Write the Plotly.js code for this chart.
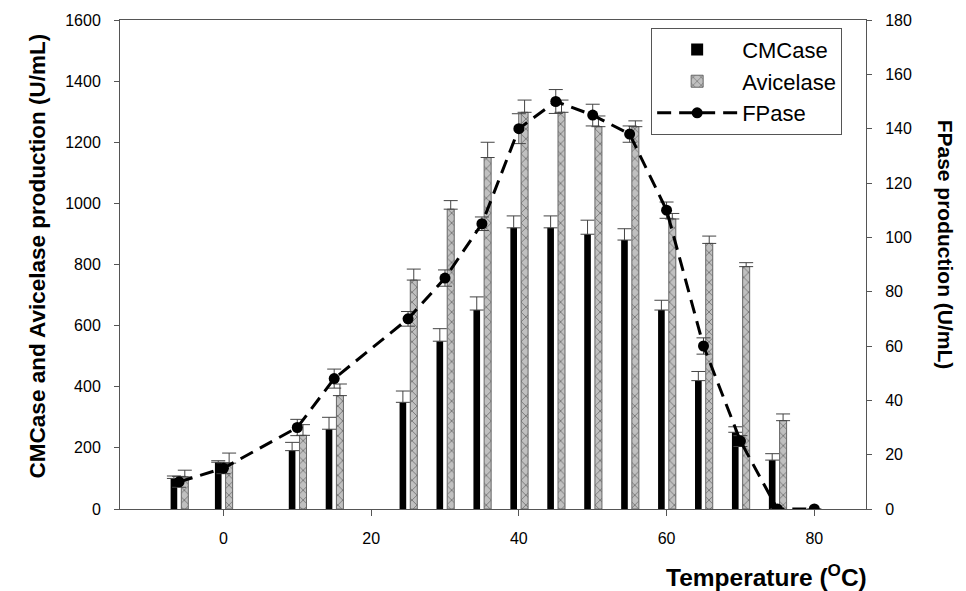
<!DOCTYPE html>
<html>
<head>
<meta charset="utf-8">
<script src="https://cdn.plot.ly/plotly-3.0.1.min.js"></script>
<style>
  html, body { margin: 0; padding: 0; background: #fff; }
  #chart { width: 966px; height: 591px; }
</style>
</head>
<body>
<div id="chart"></div>
<script>
// ---- data ----
const temperature = [-6, 0, 10, 15, 25, 30, 35, 40, 45, 50, 55, 60, 65, 70, 75];
const cmcase      = [100, 153, 191, 261, 349, 549, 651, 920, 920, 899, 880, 651, 420, 251, 160];
const cmcaseErr   = [8, 5, 27, 39, 37, 41, 43, 39, 39, 46, 37, 32, 30, 18, 21];
const avicelase   = [105, 150, 241, 371, 749, 981, 1150, 1298, 1298, 1251, 1251, 949, 869, 793, 289];
const avicelaseErr= [22, 33, 35, 38, 36, 28, 50, 40, 40, 35, 19, 18, 24, 13, 22];
const fpaseTemp   = [-6, 0, 10, 15, 25, 30, 35, 40, 45, 50, 55, 60, 65, 70, 75, 80];
const fpase       = [10, 15, 30, 48, 70, 85, 105, 140, 150, 145, 138, 110, 60, 25, 0, 0];
const fpaseErr    = [2, 2, 3, 3.5, 2.7, 3, 2.5, 5.5, 4.4, 4, 3, 3, 3, 2, 0, 0];
const xTicks      = [0, 20, 40, 60, 80];

const FONT = "Arial, 'Liberation Sans', sans-serif";

const traces = [
  {
    type: 'bar', name: 'CMCase',
    x: temperature, y: cmcase,
    offset: -1.15, width: 0.9,
    marker: { color: '#000000', line: { color: '#000000', width: 0 } },
    error_y: { type: 'data', symmetric: false, array: cmcaseErr,
               arrayminus: cmcase.map(() => 0), color: '#444', thickness: 1, width: 7 },
    yaxis: 'y'
  },
  {
    type: 'bar', name: 'Avicelase',
    x: temperature, y: avicelase,
    offset: 0.3, width: 0.95,
    marker: { color: '#c0c0c0', line: { color: '#666', width: 1 },
              pattern: { shape: 'x', bgcolor: '#c0c0c0', fgcolor: '#444', size: 7, solidity: 0.15 } },
    error_y: { type: 'data', symmetric: false, array: avicelaseErr,
               arrayminus: avicelase.map(() => 0), color: '#444', thickness: 1, width: 7 },
    yaxis: 'y'
  },
  {
    type: 'scatter', mode: 'lines+markers', name: 'FPase',
    x: fpaseTemp, y: fpase,
    line: { color: '#000', width: 3, dash: '14px,8px' },
    marker: { color: '#000', size: 11, symbol: 'circle' },
    error_y: { type: 'data', array: fpaseErr, color: '#444', thickness: 1, width: 7 },
    yaxis: 'y2'
  }
];

const axisLine = '#555';
const tickFont = { size: 16, family: FONT, color: '#000' };
const layout = {
  width: 966, height: 591,
  margin: { l: 120, r: 100, t: 20, b: 82 },
  paper_bgcolor: '#fff', plot_bgcolor: '#fff',
  font: { family: FONT, color: '#000', size: 16 },
  showlegend: true,
  barmode: 'overlay',
  xaxis: {
    range: [-14, 87], tickvals: xTicks, ticktext: xTicks.map(String),
    showgrid: false, zeroline: false,
    showline: true, linecolor: axisLine, linewidth: 1, mirror: true,
    ticks: 'outside', ticklen: 6, tickcolor: axisLine, ticklabelstandoff: 9,
    tickfont: tickFont
  },
  yaxis: {
    range: [0, 1600], dtick: 200,
    showgrid: false, zeroline: false,
    showline: true, linecolor: axisLine, linewidth: 1,
    ticks: 'outside', ticklen: 5, tickcolor: axisLine, ticklabelstandoff: 10,
    tickfont: tickFont
  },
  yaxis2: {
    range: [0, 180], dtick: 20, overlaying: 'y', side: 'right',
    showgrid: false, zeroline: false,
    showline: true, linecolor: axisLine, linewidth: 1,
    ticks: 'outside', ticklen: 5, tickcolor: axisLine, ticklabelstandoff: 10,
    tickfont: tickFont
  },
  legend: {
    x: 0.712, y: 0.984, xanchor: 'left', yanchor: 'top',
    bgcolor: '#fff', bordercolor: '#555', borderwidth: 1,
    font: { size: 22, family: FONT, color: '#000' },
    itemwidth: 80, tracegroupgap: 0
  },
  annotations: [
    { text: '<b>CMCase and Avicelase production (U/mL)</b>', xref: 'paper', yref: 'paper',
      x: -0.111, y: 0.517, xanchor: 'center', yanchor: 'middle', textangle: -90, showarrow: false,
      font: { size: 22.5, family: FONT, color: '#000' } },
    { text: '<b>FPase production (U/mL)</b>', xref: 'paper', yref: 'paper',
      x: 1.107, y: 0.541, xanchor: 'center', yanchor: 'middle', textangle: 90, showarrow: false,
      font: { size: 21, family: FONT, color: '#000' } },
    { text: '<b>Temperature (<sup>O</sup>C)</b>', xref: 'paper', yref: 'paper',
      x: 1.004, y: -0.135, xanchor: 'right', yanchor: 'middle', showarrow: false,
      font: { size: 24.5, family: FONT, color: '#000' } }
  ]
};

Plotly.newPlot('chart', traces, layout, { staticPlot: true, displayModeBar: false });
</script>
</body>
</html>
